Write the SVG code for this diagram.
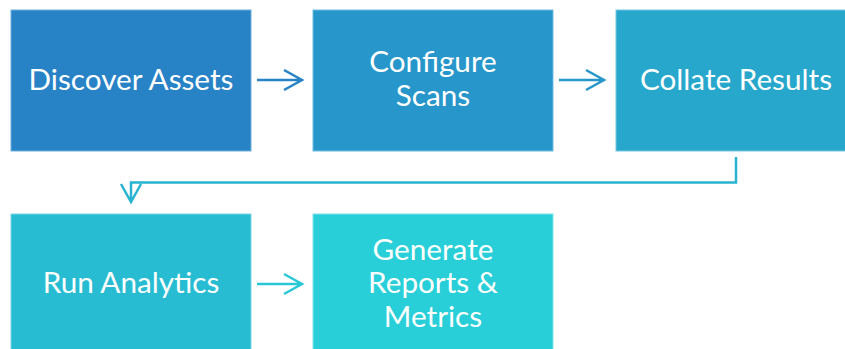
<svg xmlns="http://www.w3.org/2000/svg" width="845" height="349" viewBox="0 0 845 349">
<defs>
<style>
.box{stroke-width:1;}
.t{font-family:Lato,"Open Sans","Liberation Sans",sans-serif;font-size:29.7px;fill:#ffffff;text-anchor:middle;}
.c{fill:none;stroke-width:2.5;stroke-linecap:butt;stroke-linejoin:miter;}
</style>
</defs>
<rect width="845" height="349" fill="#ffffff"/>
<g id="connectors">
<path class="c" stroke="#2882c6" d="M257 80H302M284 70L302 80L284 90"/>
<path class="c" stroke="#2796ca" d="M559 80H604M586 70L604 80L586 90"/>
<path class="c" stroke="#28b4d0" d="M736 157V182.5H131V202M121 184L131 202L141 184"/>
<path class="c" stroke="#29c8d6" d="M257 284H302M284 274L302 284L284 294"/>
</g>
<g id="discover">
<rect class="box" x="11" y="10" width="240" height="141" fill="#2882c6" stroke="#6fb0dd"/>
<text class="t" x="131" y="90">Discover Assets</text>
</g>
<g id="configure">
<rect class="box" x="313" y="10" width="240" height="141" fill="#2796ca" stroke="#70bde0"/>
<text class="t" x="433" y="72">Configure</text>
<text class="t" x="433" y="106">Scans</text>
</g>
<g id="collate">
<rect class="box" x="616" y="10" width="240" height="141" fill="#28a7cc" stroke="#74c8e1"/>
<text class="t" x="736" y="90">Collate Results</text>
</g>
<g id="analytics">
<rect class="box" x="11" y="214" width="240" height="141" fill="#28bcd3" stroke="#78d6e5"/>
<text class="t" x="131" y="293">Run Analytics</text>
</g>
<g id="reports">
<rect class="box" x="313" y="214" width="240" height="141" fill="#29cfd8" stroke="#7ce3ea"/>
<text class="t" x="433" y="260">Generate</text>
<text class="t" x="433" y="293">Reports &amp;</text>
<text class="t" x="433" y="327">Metrics</text>
</g>
</svg>
